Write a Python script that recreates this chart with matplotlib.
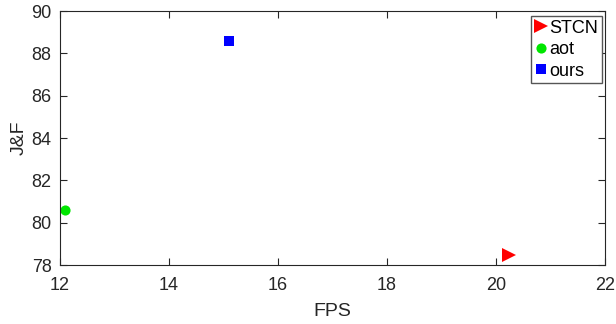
import matplotlib.pyplot as plt

plt.rcParams['font.family'] = ['Liberation Sans', 'DejaVu Sans']

methods = ['STCN', 'aot', 'ours']
fps = [20.24, 12.09, 15.1]
jf = [78.47, 80.6, 88.6]
colors = ['#ff0000', '#00e600', '#0000ff']
markers = ['>', 'o', 's']
sizes = [9.5, 7.3, 6.5]

fig = plt.figure(figsize=(6.16, 3.24), dpi=100)
# axes box in pixels: left 60, right 605, top 11, bottom 265
ax = fig.add_axes([60 / 616, 59 / 324, 545 / 616, 254 / 324])

for m, x, y, c, mk, s in zip(methods, fps, jf, colors, markers, sizes):
    ax.plot(x, y, linestyle='none', marker=mk, color=c, markersize=s,
            markeredgewidth=0, label=m)

ax.set_xlim(12, 22)
ax.set_ylim(78, 90)
ax.set_xticks(range(12, 23, 2))
ax.set_yticks(range(78, 91, 2))
ax.tick_params(direction='in', top=True, right=True, labelsize=13,
               length=5, width=0.8, colors='#262626', pad=6)
ax.tick_params(axis='x', pad=9)
for sp in ax.spines.values():
    sp.set_color('#262626')
    sp.set_linewidth(0.8)

ax.set_xlabel('FPS', fontsize=14, color='#262626', labelpad=6)
ax.set_ylabel('J&F', fontsize=14, color='#262626', labelpad=3)

leg = ax.legend(loc='upper right', bbox_to_anchor=(602 / 616, 1 - 16 / 324),
                bbox_transform=fig.transFigure, borderaxespad=0,
                fontsize=13, fancybox=False, edgecolor='#555555',
                handlelength=0.75, handletextpad=0.1, borderpad=0.2,
                labelspacing=0.25, framealpha=1)
leg.get_frame().set_linewidth(1.0)

plt.savefig('out.png')
